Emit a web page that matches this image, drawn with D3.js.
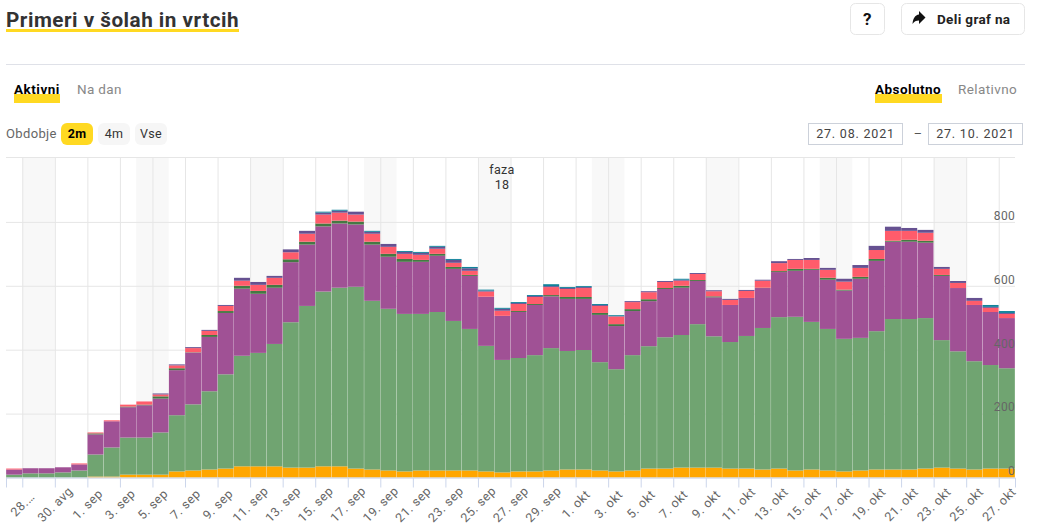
<!DOCTYPE html>
<html>
<head>
<meta charset="utf-8">
<title>Primeri v šolah in vrtcih</title>
<script src="https://cdn.jsdelivr.net/npm/d3@7"></script>
<style>
  html, body { margin: 0; padding: 0; background: #fff; }
  svg { display: block; }
  text { font-family: "Roboto", "Noto Sans", sans-serif; }
</style>
</head>
<body>
<svg id="chart" width="1038" height="524"></svg>
<script>
// Daily active cases, 27 Aug to 27 Oct 2021, one list per stacked group (bottom to top)
const orangeCases = [0,0,0,0,0,3,3,9,9,9,19,22,25,28,35,35,35,31,31,35,35,28,25,22,19,22,22,22,22,19,16,19,19,22,25,25,22,19,22,28,28,31,31,31,28,28,25,28,22,25,22,19,22,25,25,25,28,31,28,25,28,28];
const greenCases = [9,13,13,16,22,69,91,116,116,132,176,207,245,295,346,355,383,455,506,547,559,569,528,506,493,490,496,468,443,393,352,355,364,383,371,374,339,320,361,383,411,415,449,411,396,415,443,474,481,462,443,415,415,433,471,471,471,399,367,339,324,314];
const purpleCases = [16,16,16,16,19,63,82,95,101,106,141,162,170,192,210,185,176,188,192,204,201,195,176,163,163,163,176,163,166,154,138,144,157,162,163,160,148,135,138,141,151,148,135,122,116,119,125,141,144,163,154,151,185,220,242,242,236,201,198,176,166,157];
const darkGreenCases = [0,0,0,0,0,3,0,2,2,7,6,1,6,6,9,9,9,9,9,9,9,9,9,9,9,6,6,6,3,0,0,3,3,4,6,6,6,6,6,6,3,6,3,3,0,0,1,3,6,3,6,3,6,6,3,6,6,3,0,0,0,0];
const redCases = [3,0,0,0,3,3,3,6,10,6,9,13,13,16,16,19,22,22,25,28,25,22,25,22,16,16,16,13,13,16,16,22,22,25,25,28,22,24,22,22,19,16,19,16,16,22,22,25,28,28,25,25,28,28,31,28,25,19,16,13,13,13];
const darkPurpleCases = [0,0,0,0,0,0,0,0,0,3,3,3,3,3,9,9,6,9,9,6,6,9,6,9,6,6,6,9,8,3,6,3,3,3,3,3,3,1,3,3,3,3,3,3,3,3,3,6,3,6,6,9,9,13,13,9,9,6,6,9,3,3];
const tealCases = [0,0,0,0,0,0,0,0,0,0,0,0,0,0,0,0,0,0,0,3,3,0,3,0,3,3,3,3,4,3,3,3,3,6,3,3,3,3,0,0,0,3,0,0,0,0,0,0,0,0,0,0,0,0,0,0,0,0,0,0,6,6];

const seriesColors = ["#ffa600", "#70a471", "#a05195", "#457844", "#ff5c6b", "#665191", "#10829a"];
const yTicks = [0, 200, 400, 600, 800];
const xTickLabels = ["28.…","30. avg","1. sep","3. sep","5. sep","7. sep","9. sep","11. sep","13. sep","15. sep","17. sep","19. sep","21. sep","23. sep","25. sep","27. sep","29. sep","1. okt","3. okt","5. okt","7. okt","9. okt","11. okt","13. okt","15. okt","17. okt","19. okt","21. okt","23. okt","25. okt","27. okt"];

const firstDay = new Date(2021, 7, 27);
const endDay = new Date(2021, 9, 28);
const days = orangeCases.map((_, i) => d3.timeDay.offset(firstDay, i));
const rows = days.map((date, i) => ({
  date,
  s0: orangeCases[i], s1: greenCases[i], s2: purpleCases[i], s3: darkGreenCases[i],
  s4: redCases[i], s5: darkPurpleCases[i], s6: tealCases[i]
}));

const svg = d3.select("#chart");
const plot = { left: 6, right: 1015, top: 158, bottom: 477.5 };
const YELLOW = "#ffd922";

const x = d3.scaleTime().domain([firstDay, endDay]).range([plot.left, plot.right]);
const y = d3.scaleLinear().domain([0, 1000]).range([plot.bottom, plot.bottom - 1000 * 0.3195]);
const dayWidth = x(days[1]) - x(days[0]);

/* ---------- page header and controls ---------- */
const ui = svg.append("g");

function label(txt, px, py, opts = {}) {
  return ui.append("text")
    .attr("x", px).attr("y", py)
    .attr("text-anchor", opts.anchor || "start")
    .attr("font-size", opts.size || 13.5)
    .attr("font-weight", opts.weight || 400)
    .attr("letter-spacing", opts.spacing || 0.35)
    .attr("fill", opts.fill || "#666")
    .text(txt);
}
function box(bx, by, w, h, opts = {}) {
  return ui.append("rect")
    .attr("x", bx).attr("y", by).attr("width", w).attr("height", h)
    .attr("rx", opts.r ?? 0)
    .attr("fill", opts.fill || "#fff")
    .attr("stroke", opts.stroke || "none");
}

box(6, 29, 233, 3, { fill: YELLOW });
label("Primeri v šolah in vrtcih", 6, 27, { size: 20.7, weight: 700, fill: "#333", spacing: 0.5 });

box(850.5, 3.5, 34, 31, { r: 5, stroke: "#e6e6e6" });
label("?", 867.5, 24.5, { size: 17, weight: 700, fill: "#111", anchor: "middle" });
box(901.5, 3.5, 123, 31, { r: 5, stroke: "#e6e6e6" });
ui.append("path")
  .attr("d", "M919 14.5 V11 L925.5 17.5 L919 24 V20.5 C916 20.5 914 21.5 912.5 24 C913 18.5 915 15 919 14.5 Z")
  .attr("fill", "#111");
label("Deli graf na", 937, 24, { weight: 700, fill: "#222" });

ui.append("line").attr("x1", 6).attr("x2", 1025).attr("y1", 64.5).attr("y2", 64.5).attr("stroke", "#dfe1e8");

box(14, 94, 46, 9, { fill: YELLOW });
label("Aktivni", 14, 94, { weight: 700, fill: "#000", spacing: 0.5 });
label("Na dan", 77, 94, { fill: "#888" });
box(875, 94, 67, 9, { fill: YELLOW });
label("Absolutno", 875, 94, { weight: 700, fill: "#000", spacing: 0.45 });
label("Relativno", 958, 94, { fill: "#888", spacing: 0.4 });

label("Obdobje", 6, 138, { size: 13 });
box(61, 123, 32, 22, { r: 6, fill: YELLOW });
label("2m", 77, 138, { size: 12.5, weight: 700, fill: "#000", anchor: "middle" });
box(98, 123, 32, 22, { r: 6, fill: "#f6f6f6" });
label("4m", 114, 138, { size: 12.5, fill: "#333", anchor: "middle" });
box(135, 123, 32, 22, { r: 6, fill: "#f6f6f6" });
label("Vse", 151, 138, { size: 12.5, fill: "#333", anchor: "middle" });

box(808.5, 123.5, 94, 21, { stroke: "#ccd1da" });
label("27. 08. 2021", 855.5, 138, { size: 12.5, fill: "#444", anchor: "middle", spacing: 0.8 });
label("–", 918, 138, { size: 12.5, fill: "#555", anchor: "middle" });
box(928.5, 123.5, 94, 21, { stroke: "#ccd1da" });
label("27. 10. 2021", 975.5, 138, { size: 12.5, fill: "#444", anchor: "middle", spacing: 0.8 });

/* ---------- weekend bands and grid ---------- */
svg.append("g").selectAll("rect")
  .data(days.filter(d => d.getDay() === 6))
  .join("rect")
  .attr("x", d => x(d))
  .attr("y", plot.top)
  .attr("width", dayWidth * 2)
  .attr("height", plot.bottom - plot.top)
  .attr("fill", "#f8f8f8");

const tickDates = xTickLabels.map((_, i) => d3.timeDay.offset(firstDay, 1 + 2 * i));

const gridX = svg.append("g")
  .attr("transform", `translate(0,${plot.bottom})`)
  .call(d3.axisBottom(x).tickValues(tickDates).tickSize(plot.top - plot.bottom).tickFormat(""));
gridX.select(".domain").remove();
gridX.selectAll("line").attr("stroke", "#e6e6e6");

const gridY = svg.append("g")
  .attr("transform", `translate(${plot.right},0)`)
  .call(d3.axisLeft(y).tickValues(yTicks).tickSize(plot.right - plot.left).tickFormat(""));
gridY.select(".domain").remove();
gridY.selectAll("line").attr("stroke", "#e6e6e6");

svg.append("line")
  .attr("x1", plot.left).attr("x2", plot.right)
  .attr("y1", plot.top - 0.5).attr("y2", plot.top - 0.5)
  .attr("stroke", "#e6e6e6");

/* ---------- stacked daily columns ---------- */
const stack = d3.stack().keys(["s0", "s1", "s2", "s3", "s4", "s5", "s6"]);
svg.append("g").selectAll("g")
  .data(stack(rows))
  .join("g")
  .attr("fill", (_, i) => seriesColors[i])
  .selectAll("rect")
  .data(s => s.filter(d => d[1] > d[0]))
  .join("rect")
  .attr("x", d => x(d.data.date) + 0.15)
  .attr("y", d => y(d[1]))
  .attr("width", dayWidth - 0.3)
  .attr("height", d => y(d[0]) - y(d[1]));

/* ---------- x axis with rotated labels ---------- */
const xAxis = svg.append("g")
  .attr("transform", `translate(0,${plot.bottom})`)
  .call(d3.axisBottom(x).tickValues(tickDates).tickSize(10)
    .tickFormat((_, i) => xTickLabels[i]));
xAxis.select(".domain").attr("stroke", "#ccd6eb");
xAxis.selectAll("line").attr("stroke", "#ccd6eb");
xAxis.selectAll("text")
  .attr("font-family", '"Roboto", sans-serif')
  .attr("font-size", 12.5)
  .attr("letter-spacing", 0.5)
  .attr("fill", "#666")
  .attr("text-anchor", "middle")
  .attr("dy", null)
  .attr("y", 31)
  .attr("transform", "rotate(-45 0 27)");

/* ---------- y axis labels, drawn over the columns ---------- */
const yAxis = svg.append("g")
  .attr("transform", `translate(${plot.right},0)`)
  .call(d3.axisLeft(y).tickValues(yTicks).tickSize(0));
yAxis.select(".domain").remove();
yAxis.selectAll("text")
  .attr("font-family", '"Roboto", sans-serif')
  .attr("font-size", 12)
  .attr("letter-spacing", 0.3)
  .attr("fill", "#666")
  .attr("x", 0)
  .attr("dy", "-0.22em");

/* ---------- phase annotation ---------- */
const phase = svg.append("g").attr("text-anchor", "middle").attr("font-size", 12.5).attr("fill", "#333");
phase.append("text").attr("x", 502).attr("y", 174).attr("letter-spacing", 0.3).text("faza");
phase.append("text").attr("x", 502).attr("y", 189).attr("letter-spacing", 0.3).text("18");
</script>
</body>
</html>
